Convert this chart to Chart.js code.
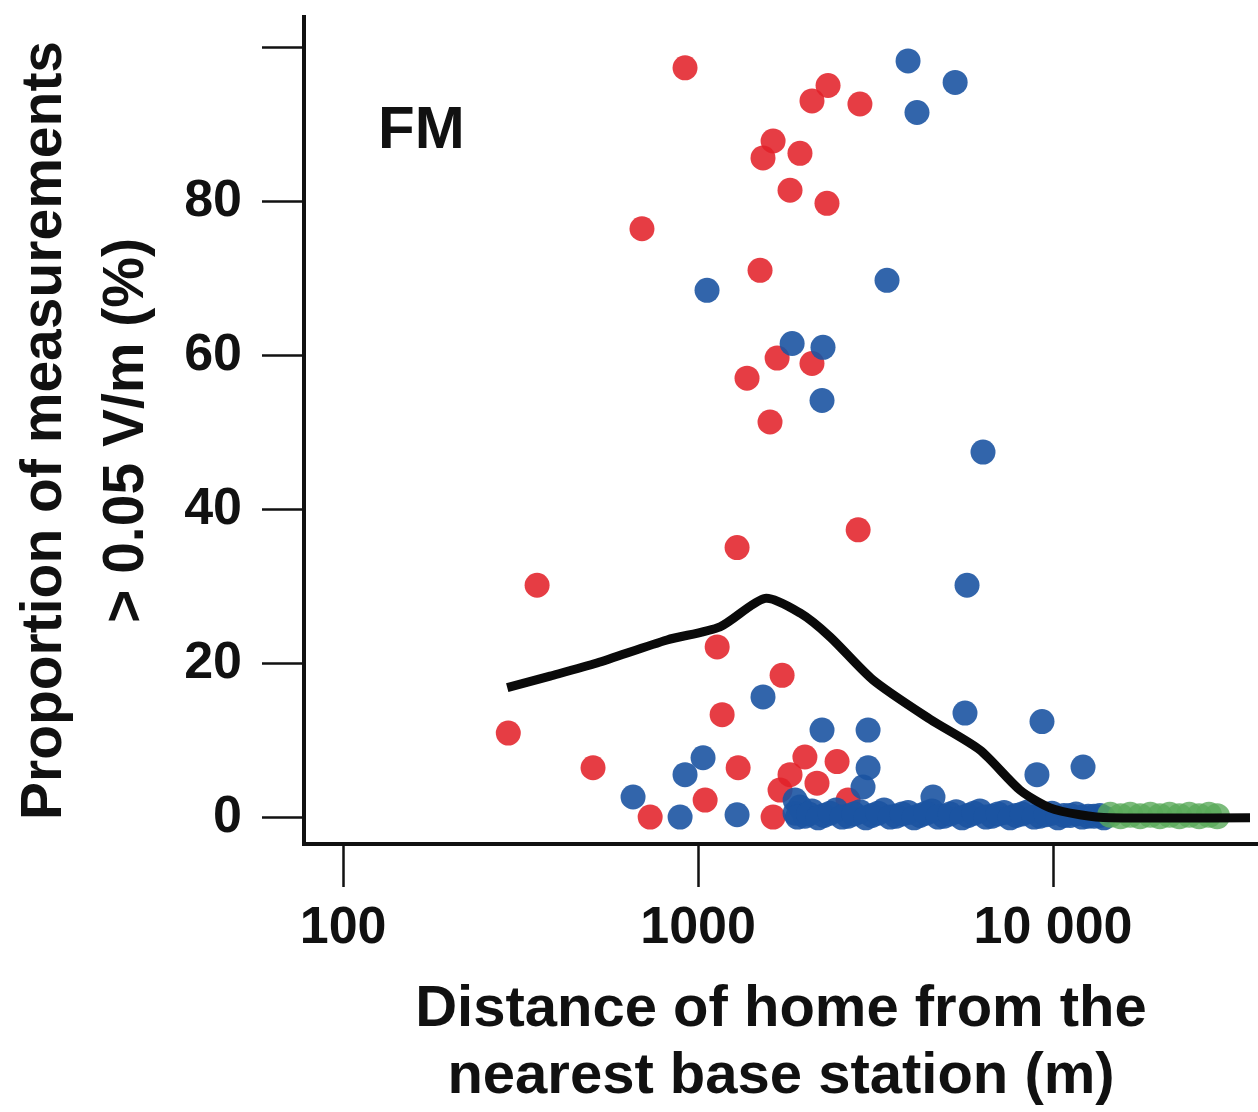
<!DOCTYPE html>
<html>
<head>
<meta charset="utf-8">
<script src="https://cdn.jsdelivr.net/npm/chart.js@4.4.1/dist/chart.umd.min.js"></script>
<style>
  html, body { margin: 0; padding: 0; background: #fff; }
  canvas { display: block; }
</style>
</head>
<body>
<canvas id="grafico" width="1258" height="1112"></canvas>
<script>
const panelLabel = 'FM';
const xTitle = ['Distance of home from the', 'nearest base station (m)'];
const yTitle = ['Proportion of measurements', '> 0.05 V/m (%)'];
const xTickValues = [100, 1000, 10000];
const xTickLabels = ['100', '1000', '10 000'];
const yTickValues = [0, 20, 40, 60, 80, 100];
const yTickLabels = ['0', '20', '40', '60', '80', ''];

// red homes
const redDist = [919, 695, 2094, 2324, 2858, 1627, 1524, 1937, 1816, 2308, 1495, 1670, 2094, 1374, 1595,
    1288, 2825, 352, 1132, 1725, 1169, 292, 506, 1297, 2000, 2464, 2163, 1047, 733, 1627, 1702, 1816, 2646];
const redPct = [97.4, 76.5, 93.1, 95.1, 92.7, 87.9, 85.7, 86.3, 81.5, 79.8, 71.1, 59.7, 59.0, 57.1, 51.4,
    35.1, 37.4, 30.2, 22.2, 18.5, 13.4, 11.0, 6.5, 6.5, 7.9, 7.3, 4.5, 2.3, 0.1, 0.1, 3.6, 5.6, 2.3];

// blue homes
const blueDist = [3905, 5300, 4138, 1060, 3407, 1841, 2249, 2235, 6350, 5725, 1524, 5650, 9310, 2235, 3013,
    12150, 9010, 3013, 1033, 919, 656, 890, 1288, 4590, 2916, 1877];
const bluePct = [98.3, 95.5, 91.6, 68.5, 69.8, 61.6, 61.1, 54.2, 47.5, 30.2, 15.7, 13.6, 12.5, 11.4, 11.4,
    6.6, 5.6, 6.5, 7.8, 5.6, 2.7, 0.1, 0.4, 2.7, 4.0, 2.3];

// blue homes packed near zero
const blueBandDist = [1877, 1937, 2000, 2094, 2264, 2448, 2646, 2858, 3090, 3342, 3614, 3905, 4217,
    4560, 4931, 5333, 5768, 6223, 6730, 7278, 7870, 8511, 9183, 9931, 10740, 11610, 12560, 13550,
    1906, 2050, 2180, 2355, 2545, 2750, 2970, 3215, 3475, 3760, 4060, 4385, 4745, 5130, 5545,
    5990, 6475, 7000, 7570, 8185, 8845, 9555, 10330, 11170, 12080, 13050, 13900];
const blueBandPct = [0.6, 1.4, 0.2, 0.9, 0.3, 1.0, 0.2, 0.8, 0.3, 1.0, 0.2, 0.7, 0.3, 0.9,
    0.2, 0.8, 0.3, 0.9, 0.2, 0.7, 0.3, 0.8, 0.2, 0.6, 0.3, 0.5, 0.2, 0.3,
    0.1, 0.5, 0.0, 0.6, 0.1, 0.5, 0.0, 0.6, 0.1, 0.5, 0.0, 0.6, 0.1, 0.5, 0.0,
    0.6, 0.1, 0.5, 0.0, 0.5, 0.1, 0.4, 0.0, 0.3, 0.1, 0.2, 0.0];

// green homes
const greenDist = [14500, 15500, 16500, 17600, 18800, 20000, 21300, 22700, 24200, 25800, 27500, 29000];
const greenPct = [0.4, 0.2, 0.4, 0.2, 0.4, 0.2, 0.4, 0.2, 0.4, 0.2, 0.4, 0.2];

// smoothed proportion
const smoothDist = [290, 383, 519, 818, 1153, 1545, 1937, 2354, 3112, 4505, 6226, 8073, 9810, 11910, 14480, 35890];
const smoothPct = [16.9, 18.4, 20.1, 23.1, 24.8, 28.5, 26.6, 23.5, 17.9, 12.8, 8.8, 3.6, 1.3, 0.4, 0.0, 0.0];

const toPoints = (xs, ys) => xs.map((x, i) => ({ x: x, y: ys[i] }));

const panelLabelPlugin = {
    id: 'panelLabel',
    afterDraw(chart) {
        const ctx = chart.ctx;
        const area = chart.chartArea;
        ctx.save();
        ctx.font = 'bold 60px "Liberation Sans", Arial, sans-serif';
        ctx.fillStyle = '#111';
        ctx.textAlign = 'left';
        ctx.textBaseline = 'alphabetic';
        ctx.fillText(panelLabel, area.left + 74, area.top + 131);
        ctx.restore();
    }
};

const tickFont = { family: '"Liberation Sans", Arial, sans-serif', size: 52, weight: 'bold' };

new Chart(document.getElementById('grafico'), {
    type: 'scatter',
    data: {
        datasets: [{
            type: 'line',
            data: toPoints(smoothDist, smoothPct),
            borderColor: '#0a0a0a',
            borderWidth: 9,
            pointRadius: 0,
            tension: 0.25,
            fill: false,
            order: 0
        }, {
            data: toPoints(greenDist, greenPct),
            backgroundColor: 'rgba(90, 170, 90, 0.8)',
            borderWidth: 0,
            pointRadius: 13,
            order: 1
        }, {
            data: toPoints(blueDist, bluePct).concat(toPoints(blueBandDist, blueBandPct)),
            backgroundColor: 'rgba(28, 84, 162, 0.9)',
            borderWidth: 0,
            pointRadius: 12.5,
            order: 2
        }, {
            data: toPoints(redDist, redPct),
            backgroundColor: 'rgba(226, 34, 42, 0.88)',
            borderWidth: 0,
            pointRadius: 12.5,
            order: 3
        }]
    },
    options: {
        responsive: false,
        animation: false,
        devicePixelRatio: 1,
        layout: { autoPadding: false, padding: { top: 17, right: 0, left: 0, bottom: 0 } },
        plugins: { legend: { display: false }, tooltip: { enabled: false } },
        scales: {
            x: {
                type: 'logarithmic',
                min: 77.6,
                max: 37800,
                afterFit: (scale) => {
                    scale.height = 268;
                    scale.paddingLeft = 0;
                    scale.paddingRight = 0;
                },
                afterBuildTicks: (scale) => { scale.ticks = xTickValues.map(v => ({ value: v })); },
                ticks: {
                    font: tickFont,
                    color: '#111',
                    padding: 10,
                    maxRotation: 0,
                    autoSkip: false,
                    callback: (v) => xTickLabels[xTickValues.indexOf(v)]
                },
                grid: { drawOnChartArea: false, tickLength: 43, tickWidth: 2.5, tickColor: '#111' },
                border: { display: true, color: '#111', width: 4 },
                title: {
                    display: true,
                    text: xTitle,
                    color: '#111',
                    font: { family: '"Liberation Sans", Arial, sans-serif', size: 58, weight: 'bold', lineHeight: 1.155 },
                    padding: { top: 0, bottom: 2 }
                }
            },
            y: {
                min: -3.4,
                max: 104,
                afterFit: (scale) => {
                    scale.width = 304;
                    scale.paddingTop = 0;
                    scale.paddingBottom = 0;
                },
                afterBuildTicks: (scale) => { scale.ticks = yTickValues.map(v => ({ value: v })); },
                ticks: {
                    font: tickFont,
                    color: '#111',
                    padding: 20,
                    autoSkip: false,
                    callback: (v) => yTickLabels[yTickValues.indexOf(v)]
                },
                grid: { drawOnChartArea: false, tickLength: 42, tickWidth: 2.5, tickColor: '#111' },
                border: { display: true, color: '#111', width: 4 },
                title: {
                    display: true,
                    text: yTitle,
                    color: '#111',
                    font: { family: '"Liberation Sans", Arial, sans-serif', size: 57, weight: 'bold', lineHeight: 1.44 },
                    padding: { top: 4, bottom: 0 }
                }
            }
        }
    },
    plugins: [panelLabelPlugin]
});
</script>
</body>
</html>
